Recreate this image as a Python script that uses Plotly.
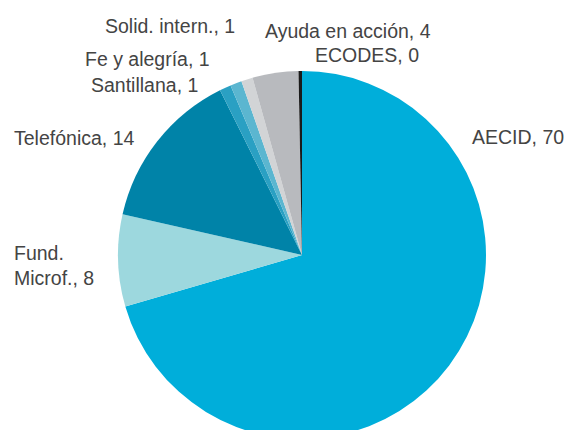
import plotly.graph_objects as go

labels = ["AECID", "Fund. Microf.", "Telefónica", "Santillana", "Fe y alegría",
          "Solid. intern.", "Ayuda en acción", "ECODES"]
label_text = ["AECID", "Fund.<br>Microf.", "Telefónica", "Santillana", "Fe y alegría",
              "Solid. intern.", "Ayuda en acción", "ECODES"]
values = [70, 8, 14, 1, 1, 1, 4, 0.3]
colors = ["#00AEDA", "#9DD8DE", "#0083A8", "#2AA0C3", "#5BB6D0",
          "#D2D4D6", "#B8BABE", "#1A1A1A"]

W, H = 564, 448
# label anchor positions in pixels (x, y, xanchor)
label_pos = [(470, 137, "left"), (12, 265, "left"), (12, 138, "left"),
             (200, 85, "right"), (212, 59, "right"), (237, 26, "right"),
             (263, 31, "left"), (313, 55, "left")]

fig = go.Figure(go.Pie(
    labels=labels, values=values, sort=False, direction="clockwise", rotation=0,
    marker=dict(colors=colors, line=dict(width=0)),
    textinfo="none", hoverinfo="label+value", showlegend=False,
    domain=dict(x=[118 / W, 486 / W], y=[(H - 439) / H, (H - 71) / H]),
))

for txt, v, (px, py, xa) in zip(label_text, values, label_pos):
    fig.add_annotation(x=px / W, y=1 - py / H, xref="paper", yref="paper",
                       text=f"{txt}, {round(v)}", showarrow=False,
                       xanchor=xa, yanchor="middle", align="left",
                       font=dict(family="Liberation Sans, Arial, sans-serif",
                                 size=19.5, color="#444444"))

fig.update_layout(width=W, height=H, margin=dict(l=0, r=0, t=0, b=0),
                  paper_bgcolor="white", plot_bgcolor="white")

fig.write_html("out.html", config={"displayModeBar": False},
               post_script="document.body.style.margin='0';document.body.style.overflow='hidden';")
